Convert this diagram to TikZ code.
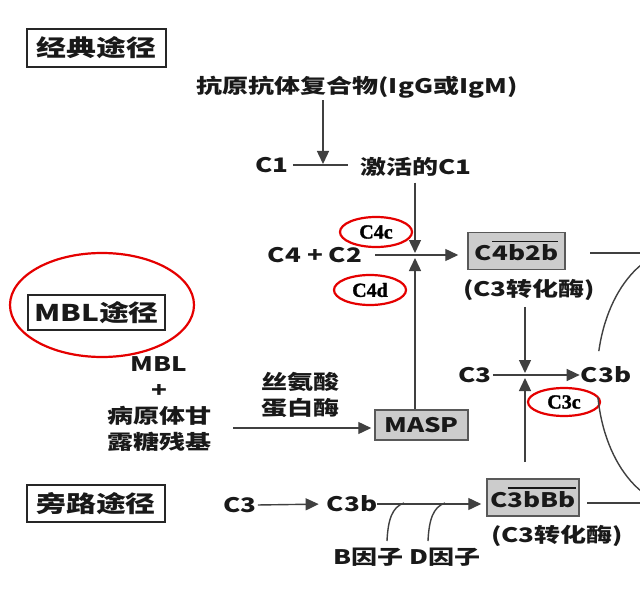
\documentclass[tikz,border=0pt]{standalone}
\usepackage{fontspec}
\setmainfont{Noto Sans CJK SC}[FakeStretch=1.3]
\newfontfamily\serifb{Liberation Serif Bold}[FakeBold=1.5]
\usetikzlibrary{arrows.meta,shapes.geometric}
\newcommand\ovl[1]{\vbox{\hrule height 1.6pt \kern 2.5pt \hbox{#1}}}
\begin{document}
\begin{tikzpicture}[x=1pt,y=-1pt,
  txt/.style={font=\fontsize{20}{26}\selectfont\bfseries, text=black!90, inner sep=0pt},
  pathbox/.style={draw=black!85, line width=1.8pt, fill=white, inner sep=0pt,
    font=\fontsize{23}{26}\selectfont\bfseries, text=black!90},
  prodbox/.style={draw=black!65, line width=1.5pt, fill=black!20, inner sep=0pt,
    font=\fontsize{20}{24}\selectfont\bfseries, text=black!90},
  ln/.style={draw=black!75, line width=1.4pt},
  arr/.style={ln, -{Triangle[length=13pt,width=12pt]}},
  redell/.style={draw=red!90!black, line width=2.2pt, ellipse, inner sep=0pt},
  lab/.style={font=\fontsize{20}{20}\selectfont\serifb, minimum width=72pt, minimum height=30pt}
]
\useasboundingbox[fill=white] (0,0) rectangle (640,591);

% classical pathway
\node[pathbox, minimum width=139pt, minimum height=38pt] (p1) at (96.5,48) {经典途径};
\node[txt] (ag) at (357,87) {抗原抗体复合物(IgG或IgM)};
\node[txt] (c1) at (272,165) {C1};
\node[txt] (ac1) at (416,167) {激活的C1};
\coordinate (k1) at (323,164);
\coordinate (c1e) at (348,165);
\draw[ln] ([xshift=4pt]c1.east) -- (c1e);
\draw[arr, shorten <=2pt] (ag.south -| k1) -- (k1);
\coordinate (j1t) at (415,253);
\draw[arr, shorten <=6pt] (ac1.south -| j1t) -- (j1t);
\node[txt] (c42) at (315,255) {C4 + C2};
\node[prodbox, minimum width=97pt, minimum height=37pt] (c4b2b) at (516.5,251) {C\ovl{4b2b}};
\draw[arr, shorten <=13pt, shorten >=9pt] (c42.east) -- (c42.east -| c4b2b.west);
\coordinate (j1b) at (415,258);
\node[redell, lab] (c4c) at (376,232) {C4c};
\node[redell, lab] (c4d) at (370,290) {C4d};
\node[txt] (t1) at (529,290) {(C3转化酶)};

% MBL pathway
\node[redell, minimum width=184pt, minimum height=104pt] (mblring) at (102,305) {};
\node[pathbox, minimum width=137pt, minimum height=35pt] (p2) at (96.5,312.5) {MBL途径};
\node[txt, align=center] (mbl) at (159,404) {MBL\\+\\病原体甘\\露糖残基};
\node[txt, align=center] (ser) at (300,395) {丝氨酸\\蛋白酶};
\node[prodbox, minimum width=93pt, minimum height=30pt] (masp) at (421.5,425) {MASP};
\coordinate (ms) at (233,428);
\draw[arr, shorten >=3pt] (ms) -- (ms -| masp.west);
\draw[arr] (masp.north -| j1b) -- (j1b);

% C3 cleavage
\coordinate (j2t) at (525,373);
\draw[arr, shorten <=6pt] (t1.south -| j2t) -- (j2t);
\node[txt] (c3r) at (475,375) {C3};
\node[txt] (c3br) at (606,375) {C3b};
\draw[arr, shorten <=1pt, shorten >=1pt] (c3r.east) -- (c3br.west);
\coordinate (j2b) at (525,378);
\coordinate (up2) at (525,462);
\draw[arr] (up2) -- (j2b);
\node[redell, lab, minimum width=72pt, minimum height=28pt] (c3c) at (564,402) {C3c};

% alternative pathway
\node[pathbox, minimum width=138pt, minimum height=37pt] (p3) at (96,503.5) {旁路途径};
\node[txt] (c3) at (240,505) {C3};
\node[txt] (c3b) at (352,504) {C3b};
\draw[arr, shorten <=1pt, shorten >=8pt] (c3.east) -- (c3b.west);
\node[prodbox, minimum width=92pt, minimum height=37pt] (c3bbb) at (533,497.5) {C\ovl{3bBb}};
\draw[arr, shorten >=5pt] (c3b.east) -- (c3b.east -| c3bbb.west);
\node[txt] (t2) at (557,536) {(C3转化酶)};
\node[txt] (bd) at (407,557) {B因子 D因子};
\coordinate (bd1) at (387,541);
\coordinate (bd2) at (428,541);
\draw[ln] (bd1) .. controls (388,520) and (392,507) .. (404,503);
\draw[ln] (bd2) .. controls (429,520) and (433,507) .. (445,503);

% right side
\coordinate (r1) at (590,253);
\coordinate (r1e) at (640,253);
\draw[ln] (r1) -- (r1e);
\coordinate (r2) at (587,503);
\coordinate (r2e) at (640,503);
\draw[ln] (r2) -- (r2e);
\begin{scope}
\clip (570,250) rectangle (640,351) (570,397) rectangle (640,500);
\draw[ln] (680,378) ellipse [x radius=83, y radius=128];
\end{scope}
\end{tikzpicture}
\end{document}
